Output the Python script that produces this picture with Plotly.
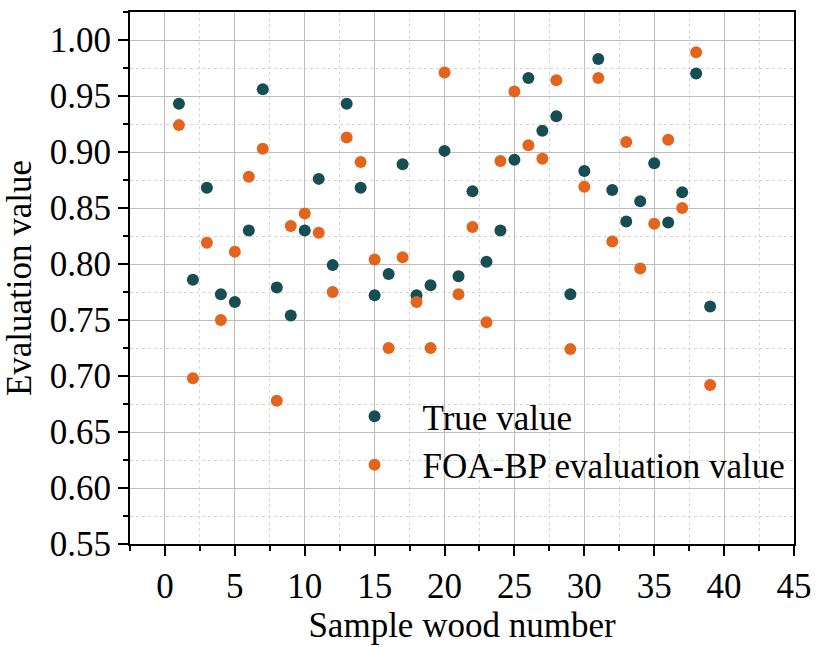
import plotly.graph_objects as go

sample_no = list(range(1, 40))
true_value = [0.943, 0.786, 0.868, 0.773, 0.766, 0.830, 0.956, 0.779, 0.754, 0.830,
              0.876, 0.799, 0.943, 0.868, 0.772, 0.791, 0.889, 0.772, 0.781, 0.901,
              0.789, 0.865, 0.802, 0.830, 0.893, 0.966, 0.919, 0.932, 0.773, 0.883,
              0.983, 0.866, 0.838, 0.856, 0.890, 0.837, 0.864, 0.970, 0.762]
foa_bp_value = [0.924, 0.698, 0.819, 0.750, 0.811, 0.878, 0.903, 0.678, 0.834, 0.845,
                0.828, 0.775, 0.913, 0.891, 0.804, 0.725, 0.806, 0.766, 0.725, 0.971,
                0.773, 0.833, 0.748, 0.892, 0.954, 0.906, 0.894, 0.964, 0.724, 0.869,
                0.966, 0.820, 0.909, 0.796, 0.836, 0.911, 0.850, 0.989, 0.692]

FONT = "Liberation Serif"
FS = 35
TEAL = "#174E52"
ORANGE = "#E3651D"

fig = go.Figure()
fig.add_trace(go.Scatter(x=sample_no, y=true_value, mode="markers", name="True value",
                         marker=dict(color=TEAL, size=12)))
fig.add_trace(go.Scatter(x=sample_no, y=foa_bp_value, mode="markers", name="FOA-BP evaluation value",
                         marker=dict(color=ORANGE, size=12)))

axis_common = dict(
    showline=True, linecolor="black", linewidth=2, mirror=True,
    ticks="outside", ticklen=10, tickwidth=2, tickcolor="black",
    showgrid=True, gridcolor="#bdbdbd", gridwidth=1,
    zeroline=False,
    tickfont=dict(family=FONT, size=FS, color="black"),
)

minor_common = dict(ticks="outside", ticklen=5, tickwidth=2, tickcolor="black",
                    showgrid=True, gridcolor="#d6d6d6", griddash="3px,3px", gridwidth=1)

fig.update_xaxes(
    range=[-2.5, 45], tick0=0, dtick=5,
    title=dict(text="Sample wood number", font=dict(family=FONT, size=FS, color="black"), standoff=6),
    minor=dict(dtick=2.5, tick0=0, **minor_common),
    **axis_common,
)
fig.update_yaxes(
    range=[0.55, 1.025], tick0=0.55, dtick=0.05, tickformat=".2f",
    title=dict(text="Evaluation value", font=dict(family=FONT, size=FS, color="black"), standoff=8),
    minor=dict(dtick=0.025, tick0=0.55, **minor_common),
    **axis_common,
)

fig.update_layout(
    width=822, height=647,
    margin=dict(l=130, r=19, t=10, b=97),
    paper_bgcolor="white", plot_bgcolor="white",
    font=dict(family=FONT, size=FS, color="black"),
    legend=dict(x=0.296, y=0.295, xanchor="left", yanchor="top", itemwidth=86,
                bgcolor="rgba(0,0,0,0)", font=dict(family=FONT, size=FS, color="black"),
                tracegroupgap=0),
    showlegend=True,
)

fig.write_html("out.html")
